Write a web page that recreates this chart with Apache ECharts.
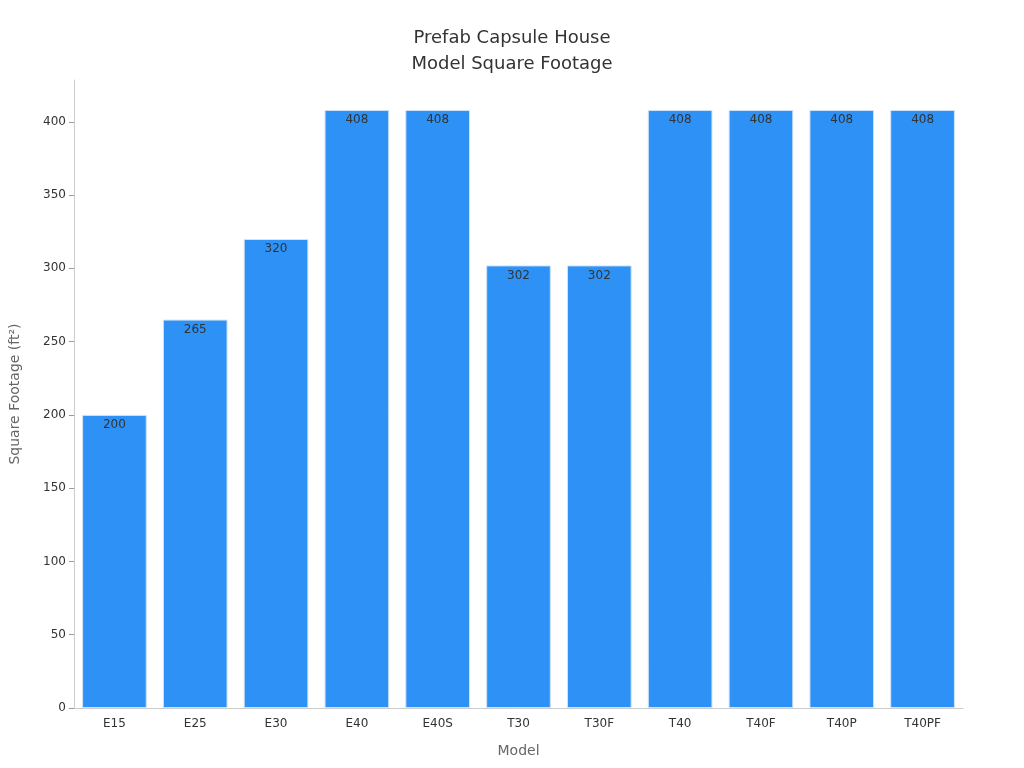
<!DOCTYPE html>
<html><head><meta charset="utf-8">
<script src="https://cdn.jsdelivr.net/npm/echarts@6/dist/echarts.min.js"></script>
<style>html,body{margin:0;background:#fff}#main{width:1024px;height:768px}</style>
</head><body><div id="main"></div>
<script>
const models = ["E15", "E25", "E30", "E40", "E40S", "T30", "T30F", "T40", "T40F", "T40P", "T40PF"];
const squareFootage = [200, 265, 320, 408, 408, 302, 302, 408, 408, 408, 408];

const chart = echarts.init(document.getElementById("main"));
const font = "DejaVu Sans";

chart.setOption({
  textStyle: { fontFamily: font },
  title: {
    text: "Prefab Capsule House\nModel Square Footage",
    left: "center",
    top: 20,
    textStyle: { fontFamily: font, fontSize: 18, fontWeight: "normal", color: "#333", lineHeight: 26 },
  },
  grid: { left: 68, right: 61, top: 80, bottom: 60 },
  xAxis: {
    type: "category",
    data: models,
    name: "Model",
    nameLocation: "middle",
    nameGap: 36,
    nameTextStyle: { fontSize: 14, color: "#666" },
    axisLine: { lineStyle: { color: "#ccc" } },
    axisTick: { show: false },
    axisLabel: { color: "#333", fontSize: 12, margin: 10 },
  },
  yAxis: {
    type: "value",
    min: 0,
    max: 428.5,
    interval: 50,
    name: "Square Footage (ft²)",
    nameLocation: "middle",
    nameGap: 52,
    nameTextStyle: { fontSize: 14, color: "#666" },
    axisLine: { show: true, lineStyle: { color: "#ccc" } },
    axisTick: { show: true, lineStyle: { color: "#999" } },
    axisLabel: { color: "#333", fontSize: 12, showMaxLabel: false },
    splitLine: { show: false },
  },
  series: [{
    type: "bar",
    data: squareFootage,
    barCategoryGap: "20%",
    itemStyle: { color: "#2E91F5", borderColor: "#cfe3f7", borderWidth: 1 },
    label: { show: true, position: "insideTop", color: "#333", fontSize: 12, distance: 4 },
  }],
});
</script></body></html>
